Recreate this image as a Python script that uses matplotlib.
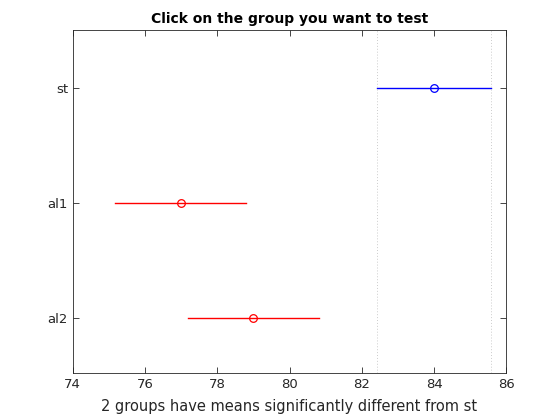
import matplotlib
matplotlib.use("Agg")
import matplotlib.pyplot as plt

groups = ["st", "al1", "al2"]
means = [84.0, 77.0, 79.0]
lower = [82.42, 75.16, 77.19]
upper = [85.58, 78.79, 80.81]
colors = ["#0000ff", "#ff0000", "#ff0000"]
xticks = [74, 76, 78, 80, 82, 84, 86]

tc = "#262626"
plt.rcParams['font.family'] = ['DejaVu Sans']
fig = plt.figure(figsize=(5.6, 4.2), dpi=100)
ax = fig.add_axes([0.13, 0.112, 0.774, 0.817])

ypos = [1, 2, 3]
for g, y, m, lo, hi, c in zip(groups, ypos, means, lower, upper, colors):
    ax.plot([lo, hi], [y, y], color=c, lw=1)
    ax.plot([m], [y], marker='o', mfc='none', mec=c, ms=5.5, mew=0.9, ls='none')

ax.axvline(lower[0], color="#cccccc", ls=(0, (1, 2)), lw=0.7)
ax.axvline(upper[0], color="#cccccc", ls=(0, (1, 2)), lw=0.7)

ax.set_xlim(74, 86)
ax.set_ylim(3.48, 0.49)
ax.set_xticks(xticks)
ax.set_xticklabels([str(t) for t in xticks])
ax.set_yticks(ypos)
ax.set_yticklabels(groups)
ax.tick_params(direction='in', top=True, right=True, labelsize=9.5, colors=tc, length=4, width=0.6, labelcolor=tc)
for s in ax.spines.values():
    s.set_color(tc)
    s.set_linewidth(0.6)
ax.set_title("Click on the group you want to test", fontsize=10, fontweight='bold', color='black', pad=5)
ax.set_xlabel("2 groups have means significantly different from st", fontsize=10.5, color=tc, labelpad=6)

fig.savefig("out.png", dpi=100)
